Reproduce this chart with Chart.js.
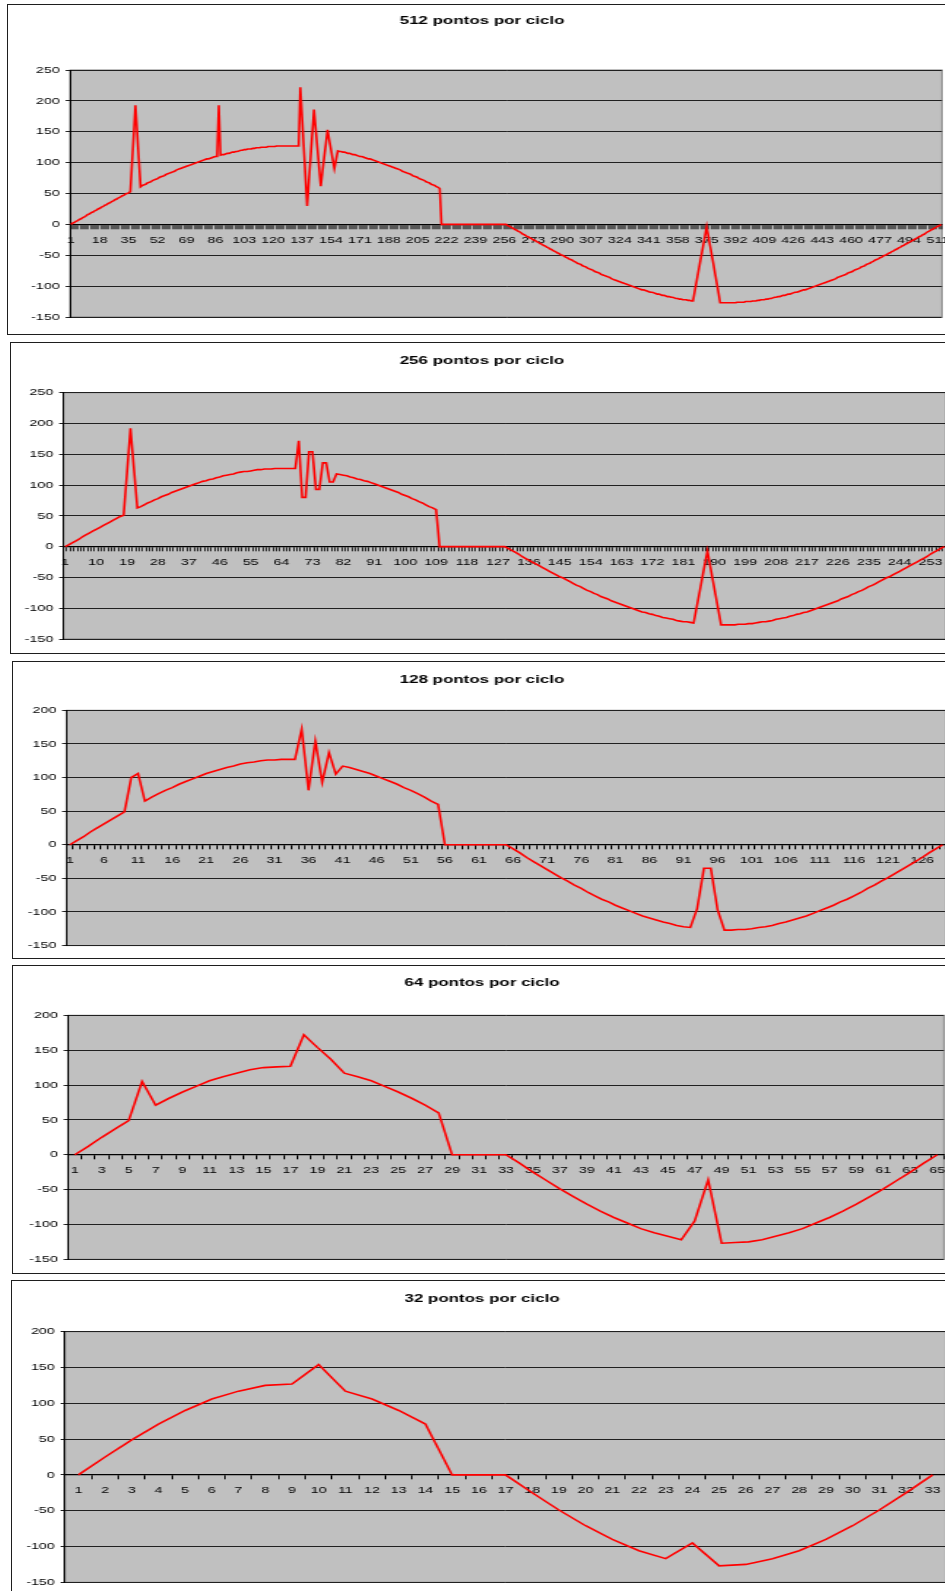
<!DOCTYPE html>
<html>
<head>
<meta charset="utf-8">
<title>Pontos por ciclo</title>
<script src="https://cdn.jsdelivr.net/npm/chart.js@4.4.1/dist/chart.umd.min.js"></script>
<style>
  html, body { margin: 0; padding: 0; background: #fff; }
  body { width: 945px; height: 1591px; overflow: hidden; position: relative; }
  .box { position: absolute; box-sizing: border-box; border: 1.5px solid #1e1e1e; background: #fff; }
  .wrap { position: absolute; transform-origin: 0 0; }
</style>
</head>
<body>
<script>
// chart titles, one per panel
const titles = [
  '512 pontos por ciclo',
  '256 pontos por ciclo',
  '128 pontos por ciclo',
  '64 pontos por ciclo',
  '32 pontos por ciclo'
];

// points per cycle (the x axis runs 1 .. n+1)
const pointsPerCycle = [512, 256, 128, 64, 32];
// every how many categories a label is written
const labelStep = [17, 9, 5, 2, 1];
// value axis limits
const yMin = [-150, -150, -150, -150, -150];
const yMax = [250, 250, 200, 200, 200];
const yStep = 50;

// values
const pontos512 = [
  0, 2, 3, 5, 6, 8, 9, 11, 12, 14,
  16, 17, 19, 20, 22, 23, 25, 26, 28, 29,
  31, 32, 34, 35, 37, 38, 40, 41, 43, 44,
  46, 47, 49, 50, 51, 53, 100, 146, 193, 149,
  105, 61, 63, 64, 65, 67, 68, 69, 71, 72,
  73, 74, 76, 77, 78, 79, 81, 82, 83, 84,
  85, 86, 88, 89, 90, 91, 92, 93, 94, 95,
  96, 97, 98, 99, 100, 101, 102, 103, 104, 105,
  106, 106, 107, 108, 109, 110, 110, 193, 112, 113,
  113, 114, 115, 115, 116, 117, 117, 118, 118, 119,
  120, 120, 121, 121, 122, 122, 122, 123, 123, 124,
  124, 124, 125, 125, 125, 125, 126, 126, 126, 126,
  126, 127, 127, 127, 127, 127, 127, 127, 127, 127,
  127, 127, 127, 127, 127, 222, 174, 126, 78, 30,
  69, 108, 147, 186, 155, 124, 93, 62, 85, 108,
  130, 153, 137, 122, 106, 91, 105, 119, 118, 118,
  117, 117, 116, 115, 115, 114, 113, 113, 112, 111,
  110, 110, 109, 108, 107, 106, 106, 105, 104, 103,
  102, 101, 100, 99, 98, 97, 96, 95, 94, 93,
  92, 91, 90, 89, 88, 86, 85, 84, 83, 82,
  81, 79, 78, 77, 76, 74, 73, 72, 71, 69,
  68, 67, 65, 64, 63, 61, 60, 58, 0, 0,
  0, 0, 0, 0, 0, 0, 0, 0, 0, 0,
  0, 0, 0, 0, 0, 0, 0, 0, 0, 0,
  0, 0, 0, 0, 0, 0, 0, 0, 0, 0,
  0, 0, 0, 0, 0, 0, 0, -2, -3, -5,
  -6, -8, -9, -11, -12, -14, -16, -17, -19, -20,
  -22, -23, -25, -26, -28, -29, -31, -32, -34, -35,
  -37, -38, -40, -41, -43, -44, -46, -47, -49, -50,
  -51, -53, -54, -56, -57, -58, -60, -61, -63, -64,
  -65, -67, -68, -69, -71, -72, -73, -74, -76, -77,
  -78, -79, -81, -82, -83, -84, -85, -86, -88, -89,
  -90, -91, -92, -93, -94, -95, -96, -97, -98, -99,
  -100, -101, -102, -103, -104, -105, -106, -106, -107, -108,
  -109, -110, -110, -111, -112, -113, -113, -114, -115, -115,
  -116, -117, -117, -118, -118, -119, -120, -120, -121, -121,
  -122, -122, -122, -123, -123, -124, -124, -109, -94, -79,
  -64, -49, -34, -19, -4, -19, -34, -49, -64, -80,
  -95, -111, -127, -127, -127, -127, -127, -127, -127, -127,
  -127, -127, -126, -126, -126, -126, -126, -125, -125, -125,
  -125, -124, -124, -124, -123, -123, -122, -122, -122, -121,
  -121, -120, -120, -119, -118, -118, -117, -117, -116, -115,
  -115, -114, -113, -113, -112, -111, -110, -110, -109, -108,
  -107, -106, -106, -105, -104, -103, -102, -101, -100, -99,
  -98, -97, -96, -95, -94, -93, -92, -91, -90, -89,
  -88, -86, -85, -84, -83, -82, -81, -79, -78, -77,
  -76, -74, -73, -72, -71, -69, -68, -67, -65, -64,
  -63, -61, -60, -58, -57, -56, -54, -53, -51, -50,
  -49, -47, -46, -44, -43, -41, -40, -38, -37, -35,
  -34, -32, -31, -29, -28, -26, -25, -23, -22, -20,
  -19, -17, -16, -14, -12, -11, -9, -8, -6, -5,
  -3, -2, 0
];

const pontos256 = [
  0, 3, 6, 9, 12, 16, 19, 22, 25, 28,
  31, 34, 37, 40, 43, 46, 49, 51, 121, 192,
  127, 63, 65, 68, 71, 73, 76, 78, 81, 83,
  85, 88, 90, 92, 94, 96, 98, 100, 102, 104,
  106, 107, 109, 110, 112, 113, 115, 116, 117, 118,
  120, 121, 122, 122, 123, 124, 125, 125, 126, 126,
  126, 127, 127, 127, 127, 127, 127, 127, 172, 80,
  80, 154, 154, 93, 93, 136, 136, 105, 105, 118,
  117, 116, 115, 113, 112, 110, 109, 107, 106, 104,
  102, 100, 98, 96, 94, 92, 90, 88, 85, 83,
  81, 78, 76, 73, 71, 68, 65, 63, 60, 0,
  0, 0, 0, 0, 0, 0, 0, 0, 0, 0,
  0, 0, 0, 0, 0, 0, 0, 0, 0, -3,
  -6, -9, -12, -16, -19, -22, -25, -28, -31, -34,
  -37, -40, -43, -46, -49, -51, -54, -57, -60, -63,
  -65, -68, -71, -73, -76, -78, -81, -83, -85, -88,
  -90, -92, -94, -96, -98, -100, -102, -104, -106, -107,
  -109, -110, -112, -113, -115, -116, -117, -118, -120, -121,
  -122, -122, -123, -124, -95, -66, -36, -7, -37, -67,
  -97, -127, -127, -127, -127, -127, -126, -126, -126, -125,
  -125, -124, -123, -122, -122, -121, -120, -118, -117, -116,
  -115, -113, -112, -110, -109, -107, -106, -104, -102, -100,
  -98, -96, -94, -92, -90, -88, -85, -83, -81, -78,
  -76, -73, -71, -68, -65, -63, -60, -57, -54, -51,
  -49, -46, -43, -40, -37, -34, -31, -28, -25, -22,
  -19, -16, -12, -9, -6, -3, 0
];

const pontos128 = [
  0, 6, 12, 19, 25, 31, 37, 43, 49, 100,
  106, 65, 71, 76, 81, 85, 90, 94, 98, 102,
  106, 109, 112, 115, 117, 120, 122, 123, 125, 126,
  126, 127, 127, 127, 172, 81, 154, 93, 137, 105,
  117, 115, 112, 109, 106, 102, 98, 94, 90, 85,
  81, 76, 71, 65, 60, 0, 0, 0, 0, 0,
  0, 0, 0, 0, 0, -6, -12, -19, -25, -31,
  -37, -43, -49, -54, -60, -65, -71, -76, -81, -85,
  -90, -94, -98, -102, -106, -109, -112, -115, -117, -120,
  -122, -123, -95, -35, -35, -97, -127, -127, -126, -126,
  -125, -123, -122, -120, -117, -115, -112, -109, -106, -102,
  -98, -94, -90, -85, -81, -76, -71, -65, -60, -54,
  -49, -43, -37, -31, -25, -19, -12, -6, 0
];

const pontos64 = [
  0, 12, 25, 37, 49, 105, 71, 81, 90, 98,
  106, 112, 117, 122, 125, 126, 127, 172, 154, 137,
  117, 112, 106, 98, 90, 81, 71, 60, 0, 0,
  0, 0, 0, -12, -25, -37, -49, -60, -71, -81,
  -90, -98, -106, -112, -117, -122, -95, -36, -127, -126,
  -125, -122, -117, -112, -106, -98, -90, -81, -71, -60,
  -49, -37, -25, -12, 0
];

const pontos32 = [
  0, 25, 49, 71, 90, 106, 117, 125, 127, 154,
  117, 106, 90, 71, 0, 0, 0, -25, -49, -71,
  -90, -106, -117, -95, -127, -125, -117, -106, -90, -71,
  -49, -25, 0
];

const series = [pontos512, pontos256, pontos128, pontos64, pontos32];

// where each panel sits on the page (px)
const frames = [
  { left: 7,  top: 4,     bottom: 335,  plotLeft: 70,   plotTop: 70,     plotBottom: 317,    plotRight: 942, titleY: 21 },
  { left: 10, top: 342,   bottom: 654,  plotLeft: 63.5, plotTop: 392.7,  plotBottom: 639,    plotRight: 946, titleY: 360.5 },
  { left: 12, top: 660.7, bottom: 959,  plotLeft: 66.5, plotTop: 710,    plotBottom: 945.3,  plotRight: 946, titleY: 679 },
  { left: 12, top: 965,   bottom: 1274, plotLeft: 68,   plotTop: 1015.3, plotBottom: 1259.3, plotRight: 944, titleY: 982.7 },
  { left: 11, top: 1280,  bottom: 1600, plotLeft: 65,   plotTop: 1331.7, plotBottom: 1582.3, plotRight: 946, titleY: 1299 }
];
// thinner tick marks where they are packed tight
const tickWidth = [0.55, 0.8, 1, 1, 1];

const SX = 1.46;          // the source picture is stretched sideways
const CANVAS_RIGHT = 960; // page x where each canvas ends
const TITLE_CENTER = 482; // page x of title centre
const FONT = "'Liberation Sans', Arial, sans-serif";
const TICK_SIZE = 9.8;
const TITLE_SIZE = 11.6;

// grey plot area like the old Excel charts
const plotBackground = {
  id: 'plotBackground',
  beforeDraw(chart) {
    const { ctx, chartArea: a } = chart;
    ctx.save();
    ctx.fillStyle = '#c0c0c0';
    ctx.fillRect(a.left, a.top, a.right - a.left, a.bottom - a.top);
    ctx.strokeStyle = '#808080';
    ctx.lineWidth = 1;
    ctx.strokeRect(a.left, a.top, a.right - a.left, a.bottom - a.top);
    ctx.restore();
  }
};

series.forEach((values, i) => {
  const f = frames[i];

  const box = document.createElement('div');
  box.className = 'box';
  box.style.left = f.left + 'px';
  box.style.top = f.top + 'px';
  box.style.width = (1000 - f.left) + 'px';
  box.style.height = (f.bottom - f.top) + 'px';
  document.body.appendChild(box);

  const W = Math.round((CANVAS_RIGHT - f.left) / SX);
  const H = Math.round(f.bottom - f.top);
  const wrap = document.createElement('div');
  wrap.className = 'wrap';
  wrap.style.left = f.left + 'px';
  wrap.style.top = f.top + 'px';
  wrap.style.width = W + 'px';
  wrap.style.height = H + 'px';
  wrap.style.transform = 'scaleX(' + SX + ')';
  const canvas = document.createElement('canvas');
  wrap.appendChild(canvas);
  document.body.appendChild(wrap);

  // layout in (unstretched) canvas units
  const areaLeft = (f.plotLeft - f.left) / SX;
  const areaRight = (f.plotRight - f.left) / SX;
  const padRight = W - areaRight;
  const center = (TITLE_CENTER - f.left) / SX;
  const padLeft = Math.max(0, 2 * center - W + padRight);
  const yAxisWidth = areaLeft - padLeft;
  const titleLine = TITLE_SIZE * 1.2;
  const titleTop = f.titleY - f.top - titleLine / 2;
  const titleBottom = f.plotTop - f.top - titleTop - titleLine;
  const padBottom = H - (f.plotBottom - f.top);

  const categories = [];
  for (let n = 1; n <= pointsPerCycle[i] + 1; n++) categories.push(String(n));
  const step = labelStep[i];

  new Chart(canvas, {
    type: 'line',
    data: {
      labels: categories,
      datasets: [{
        data: values,
        borderColor: '#ff0000',
        borderWidth: 1.6,
        pointRadius: 0,
        tension: 0,
        fill: false
      }]
    },
    options: {
      responsive: true,
      maintainAspectRatio: false,
      animation: false,
      events: [],
      layout: { padding: { left: padLeft, right: padRight, top: 0, bottom: padBottom } },
      plugins: {
        legend: { display: false },
        tooltip: { enabled: false },
        title: {
          display: true,
          text: titles[i],
          color: '#000',
          font: { family: FONT, size: TITLE_SIZE, weight: 'bold', lineHeight: 1.2 },
          padding: { top: titleTop, bottom: titleBottom }
        }
      },
      scales: {
        x: {
          type: 'category',
          position: { y: 0 },
          offset: true,
          grid: {
            display: true,
            drawOnChartArea: false,
            drawTicks: true,
            tickLength: 4,
            color: '#000',
            lineWidth: tickWidth[i],
            offset: true
          },
          border: { display: true, color: '#000', width: 1.3 },
          ticks: {
            autoSkip: false,
            maxRotation: 0,
            minRotation: 0,
            padding: 6,
            color: '#000',
            font: { family: FONT, size: TICK_SIZE },
            callback: (value, index) => (index % step === 0 ? categories[index] : '')
          }
        },
        y: {
          min: yMin[i],
          max: yMax[i],
          afterFit: (scale) => { scale.width = yAxisWidth; },
          grid: { color: '#202020', lineWidth: 1, tickLength: 3, drawTicks: true },
          border: { display: true, color: '#000', width: 1 },
          ticks: {
            stepSize: yStep,
            padding: 4,
            color: '#000',
            font: { family: FONT, size: TICK_SIZE }
          }
        }
      }
    },
    plugins: [plotBackground]
  });
});
</script>
</body>
</html>
